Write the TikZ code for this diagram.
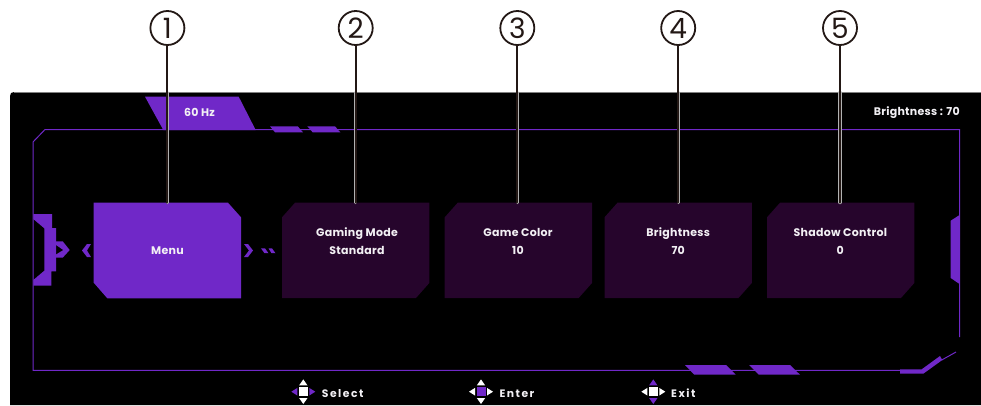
\documentclass[tikz,border=0pt]{standalone}
\usepackage{fontspec}
\setmainfont{Poppins}[BoldFont=Poppins Bold]
\definecolor{vio}{HTML}{7028C8}
\definecolor{plum}{HTML}{26052C}
\definecolor{ink}{HTML}{231815}
\definecolor{soft}{HTML}{F2F0F4}
\tikzset{
  x=1pt,y=-1pt,
  vfill/.style={fill=vio,draw=none},
  frameline/.style={draw=vio,line width=1pt},
  tiletext/.style={text=soft,font=\bfseries\fontsize{11}{18}\selectfont\addfontfeature{LetterSpace=2.5},align=center,inner sep=0pt},
  toptext/.style={text=soft,font=\bfseries\fontsize{11}{13}\selectfont\addfontfeature{LetterSpace=2.5},inner sep=0pt},
  keytext/.style={text=soft,font=\bfseries\fontsize{10.8}{12}\selectfont\addfontfeature{LetterSpace=14},inner sep=0pt,anchor=west},
  slot/.style={minimum width=147.5pt,minimum height=95.6pt,inner sep=0pt},
  callout/.style={circle,draw=ink,line width=1.8pt,minimum size=34pt,inner sep=0pt,text=ink,font=\fontsize{28}{28}\selectfont},
  leadhalo/.style={draw=black!30!white,line width=3.4pt,line cap=round},
  leadcore/.style={draw=ink,line width=2pt,line cap=round},
}
\newcommand{\keypad}[4]{% centre, LR colour, square colour, UD colour
  \begin{scope}[shift={#1}]
    \fill[#4] (0,-12.3)--(4.2,-6.3)--(-4.2,-6.3)--cycle;
    \fill[#4] (0,12.3)--(4.2,6.3)--(-4.2,6.3)--cycle;
    \fill[#2] (-12,0)--(-6,-3.8)--(-6,3.8)--cycle;
    \fill[#2] (12,0)--(6,-3.8)--(6,3.8)--cycle;
    \fill[#3] (-4.5,-4.5) rectangle (4.5,4.5);
  \end{scope}}
\begin{document}
\begin{tikzpicture}
\useasboundingbox (0,0) rectangle (981,405);
\fill[white] (0,0) rectangle (981,405);
% panel
\fill[black] (981,405)--(10,405)--(10,96) .. controls (10,93.5) and (11.5,92) .. (14,92)--(981,92)--cycle;
\draw[black!50!white,line width=.5pt] (14,92)--(981,92);
% frame
\draw[frameline] (959.5,337)--(959.5,129.5)--(45,129.5)--(33,142)--(33,370.3)--(900,370.3);
\draw[vio,line width=1pt] (941.7,360)--(956,352);
% tab and dashes
\fill[vfill] (145,96.7)--(238.7,96.7)--(255.7,130)--(163.3,130)--cycle;
\fill[vfill] (270,126.3)--(297.7,126.3)--(303,132.3)--(275,132.3)--cycle;
\fill[vfill] (307.3,126.3)--(335,126.3)--(340.3,132.3)--(312.7,132.3)--cycle;
\fill[vfill] (685,365)--(726,365)--(735.7,374.7)--(694.3,374.7)--cycle;
\fill[vfill] (749,365)--(790,365)--(800,374.7)--(758.7,374.7)--cycle;
\fill[vfill] (900,369.3)--(921.7,369.3)--(940,356)--(942.3,360)--(923.3,373.7)--(900,373.7)--cycle;
% left ornament
\fill[vfill] (33.3,214)--(52,214)--(52,228)--(56,228)--(56,271.3)--(51.3,271.3)--(51.3,285.7)--(33.3,285.7)--(33.3,280)--(44.3,270.7)--(44.3,228.3)--(33.3,219)--cycle;
\fill[vfill] (56,241.3)--(62.7,241.3)--(69.7,250)--(62.7,257.7)--(56,257.7)--(56,254.5)--(63.3,250)--(56,245)--cycle;
% right ornament
\fill[vfill] (959.5,215)--(950.7,220.7)--(950.7,278)--(959.5,284)--cycle;
% chevrons
\fill[vfill] (87,244)--(91,244)--(87,250.5)--(91,257)--(87,257)--(82,250.5)--cycle;
\fill[vfill] (244,244)--(248,244)--(253,250.5)--(248,257)--(244,257)--(249,250.5)--cycle;
\fill[vfill] (261,248.3)--(265,248.3)--(268.5,253.2)--(264.5,253.2)--cycle;
\fill[vfill] (268.5,248.3)--(272,248.3)--(275.5,253.2)--(271.5,253.2)--cycle;
% tiles
\fill[vfill] (93.7,202.7)--(228,202.7)--(241,217.3)--(241,298.3)--(107.3,298.3)--(93.7,282.7)--cycle;
\foreach \l in {282,444.7,604.5,767}{
  \fill[plum] (\l,217.3)--(\l+13,202.7)--(\l+147.3,202.7)--(\l+147.3,283)--(\l+134,298)--(\l,298)--cycle;
}
\node[slot] (b1) at (167.4,250.5) {};
\node[slot] (b2) at (355.7,250.5) {};
\node[slot] (b3) at (518.3,250.5) {};
\node[slot] (b4) at (678.2,250.5) {};
\node[slot] (b5) at (840.6,250.5) {};
% callouts
\node[callout] (c1) at (167.4,28) {1};
\node[callout] (c2) at (355.7,28) {2};
\node[callout] (c3) at (517.3,28) {3};
\node[callout] (c4) at (678.2,28) {4};
\node[callout] (c5) at (840,28) {5};
% leaders
\foreach \i in {1,...,5}{
  \draw[leadhalo] (c\i.south |- 0,92.5) -- (c\i.south |- b\i.north);
  \draw[leadcore] (c\i.south) -- (c\i.south |- b\i.north);
}
% text
\node[toptext] (hz) at (199.5,112.5) {60 Hz};
\node[toptext,anchor=east] (br) at (960,112.5) {Brightness : 70};
\node[tiletext] (t1) at (167.4,250.5) {Menu};
\node[tiletext] (t2) at (357,241.3) {Gaming Mode\\Standard};
\node[tiletext] (t3) at (518,241.3) {Game Color\\10};
\node[tiletext] (t4) at (678.2,241.3) {Brightness\\70};
\node[tiletext] (t5) at (840.3,241.3) {Shadow Control\\0};
% key hints
\keypad{(303.3,391.7)}{vio}{white}{white}
\keypad{(481,391.7)}{white}{vio}{white}
\keypad{(653.3,391.7)}{white}{white}{vio}
\node[keytext] (k1) at (321.7,393.5) {Select};
\node[keytext] (k2) at (499.3,393.5) {Enter};
\node[keytext] (k3) at (671,393.5) {Exit};
\end{tikzpicture}
\end{document}
